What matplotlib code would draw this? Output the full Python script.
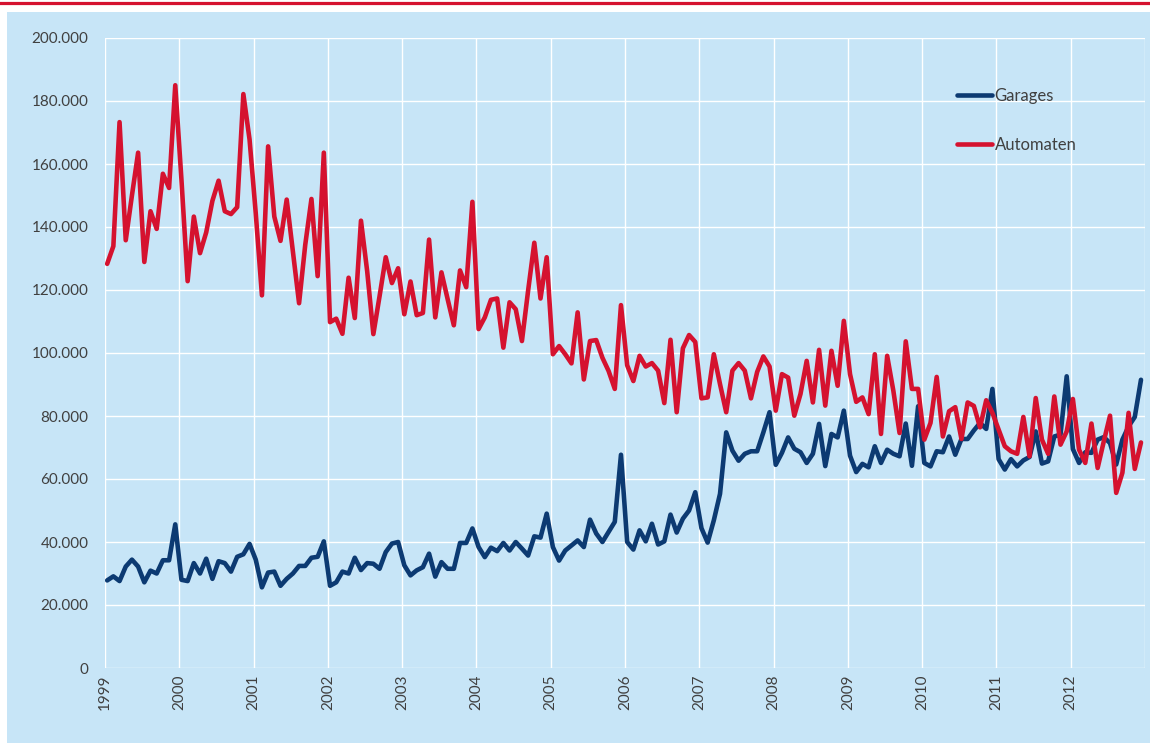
import matplotlib
matplotlib.use("Agg")
import matplotlib.pyplot as plt
from matplotlib.patches import Rectangle
from matplotlib.lines import Line2D

plt.rcParams['font.family'] = ['Lato', 'DejaVu Sans']

years = [str(y) for y in range(1999, 2013)]

automaten = [
    128.3, 133.9, 173.3, 135.8, 150.0, 163.6, 128.9, 145.0, 139.4, 156.9, 152.4, 185.0,
    155.0, 122.8, 143.3, 131.7, 138.3, 148.3, 154.7, 145.0, 144.1, 146.3, 182.2, 167.8,
    144.4, 118.3, 165.6, 143.3, 135.6, 148.7, 132.2, 115.8, 134.4, 148.9, 124.4, 163.6,
    109.8, 110.9, 106.1, 123.9, 111.1, 142.0, 126.0, 106.0, 118.0, 130.4, 122.2, 126.9,
    112.3, 122.7, 112.0, 112.7, 136.0, 111.3, 125.6, 117.1, 108.8, 126.2, 120.9, 148.0,
    107.6, 111.3, 116.9, 117.3, 101.7, 116.1, 113.9, 103.8, 119.8, 135.0, 117.3, 130.4,
    99.6, 102.2, 99.6, 96.7, 112.9, 91.6, 103.8, 104.1, 98.5, 94.3, 88.6, 115.2,
    96.1, 91.1, 99.1, 95.7, 96.8, 94.4, 84.1, 104.2, 81.2, 101.5, 105.7, 103.5,
    85.6, 85.9, 99.6, 90.1, 81.2, 94.4, 96.8, 94.4, 85.6, 94.0, 98.9, 95.7,
    81.7, 93.3, 92.2, 80.1, 87.0, 97.5, 84.3, 101.0, 83.3, 100.7, 89.6, 110.2,
    93.3, 84.5, 85.9, 80.6, 99.6, 74.3, 99.1, 88.0, 74.6, 103.7, 88.6, 88.6,
    72.5, 77.8, 92.4, 73.5, 81.5, 82.8, 72.7, 84.3, 83.2, 76.4, 85.0, 81.0,
    75.7, 70.4, 68.8, 68.0, 79.7, 67.2, 85.7, 72.5, 68.0, 86.2, 70.9, 75.1,
    85.4, 69.3, 65.1, 77.6, 63.5, 72.0, 80.1, 55.6, 62.0, 81.0, 63.2, 71.6,
]

garages = [
    27.8, 29.1, 27.6, 32.2, 34.4, 32.2, 27.2, 30.9, 30.0, 34.2, 34.2, 45.6,
    28.0, 27.6, 33.3, 30.0, 34.7, 28.3, 33.9, 33.3, 30.6, 35.3, 36.1, 39.4,
    34.4, 25.6, 30.3, 30.6, 26.1, 28.3, 30.0, 32.4, 32.4, 35.0, 35.3, 40.2,
    26.1, 27.2, 30.6, 30.0, 35.0, 31.1, 33.3, 33.1, 31.5, 36.8, 39.5, 40.0,
    32.6, 29.4, 31.0, 32.0, 36.3, 29.0, 33.6, 31.5, 31.5, 39.7, 39.7, 44.3,
    38.4, 35.2, 38.2, 37.1, 39.7, 37.3, 40.0, 37.9, 35.7, 41.8, 41.4, 49.0,
    38.4, 34.1, 37.3, 38.9, 40.5, 38.4, 47.1, 42.7, 40.0, 43.2, 46.4, 67.7,
    40.0, 37.6, 43.7, 40.2, 45.8, 39.2, 40.2, 48.7, 43.0, 47.4, 50.0, 55.8,
    44.4, 39.8, 46.9, 55.3, 74.8, 69.0, 65.8, 68.0, 68.8, 68.8, 74.8, 81.2,
    64.5, 68.3, 73.2, 69.6, 68.5, 65.1, 68.0, 77.5, 64.1, 74.3, 73.2, 81.7,
    67.4, 62.2, 64.8, 63.7, 70.4, 65.1, 69.3, 68.0, 67.2, 77.6, 64.2, 83.1,
    65.1, 64.0, 68.8, 68.5, 73.5, 67.7, 72.7, 72.7, 75.4, 77.8, 75.9, 88.6,
    66.3, 63.0, 66.3, 64.0, 65.9, 67.0, 75.1, 64.9, 65.6, 73.5, 74.1, 92.6,
    69.5, 65.1, 68.5, 68.3, 72.5, 73.3, 71.4, 64.6, 72.5, 76.7, 79.7, 91.5,
]

y_ticks = [0, 20000, 40000, 60000, 80000, 100000, 120000, 140000, 160000, 180000, 200000]
y_labels = ['0', '20.000', '40.000', '60.000', '80.000', '100.000', '120.000',
            '140.000', '160.000', '180.000', '200.000']

BG = '#c7e5f7'
RED = '#d5122f'
BLUE = '#0c3a72'
TXT = '#404040'

W, H = 1150, 743
fig = plt.figure(figsize=(W / 100, H / 100), dpi=100)
fig.patch.set_facecolor('white')
panel = Rectangle((7 / W, 0), 1 - 7 / W, (H - 12) / H, transform=fig.transFigure,
                  facecolor=BG, edgecolor='none', zorder=-10)
fig.add_artist(panel)
fig.add_artist(Line2D([0, 1], [1 - 2.5 / H, 1 - 2.5 / H], transform=fig.transFigure,
                      color=RED, lw=2.3, zorder=-5))

ax = fig.add_axes([105 / W, (H - 668) / H, (1145 - 105) / W, (668 - 38) / H])
ax.set_zorder(1)
ax.set_facecolor('none')

# monthly points, placed slightly after the start of each month
x = [i + 0.35 for i in range(len(garages))]
g_vals = [v * 1000 for v in garages]
a_vals = [v * 1000 for v in automaten]

ax.plot(x, g_vals, color=BLUE, lw=3.3, label='Garages', zorder=3,
        solid_joinstyle='round', solid_capstyle='round')
ax.plot(x, a_vals, color=RED, lw=3.3, label='Automaten', zorder=4,
        solid_joinstyle='round', solid_capstyle='round')

ax.set_xlim(0, 168)
ax.set_ylim(0, 200000)
ax.set_yticks(y_ticks)
ax.set_yticklabels(y_labels)
xt = list(range(0, 169, 12))
ax.set_xticks(xt)
ax.set_xticklabels(years + [''], rotation=90)

ax.grid(True, color='white', lw=1.0, zorder=1)
ax.set_axisbelow(True)
for s in ax.spines.values():
    s.set_visible(False)
ax.tick_params(axis='both', length=0, labelsize=11, labelcolor=TXT)
ax.tick_params(axis='y', pad=12)
ax.tick_params(axis='x', pad=5)

leg = ax.legend(loc='upper left', bbox_to_anchor=(957 / W, 1 - 88 / H),
                bbox_transform=fig.transFigure, frameon=False, fontsize=12,
                handlelength=2.1, handletextpad=0.15, labelspacing=1.95,
                borderpad=0, borderaxespad=0)
for t in leg.get_texts():
    t.set_color(TXT)

fig.savefig('out.png', dpi=100, facecolor='white')
